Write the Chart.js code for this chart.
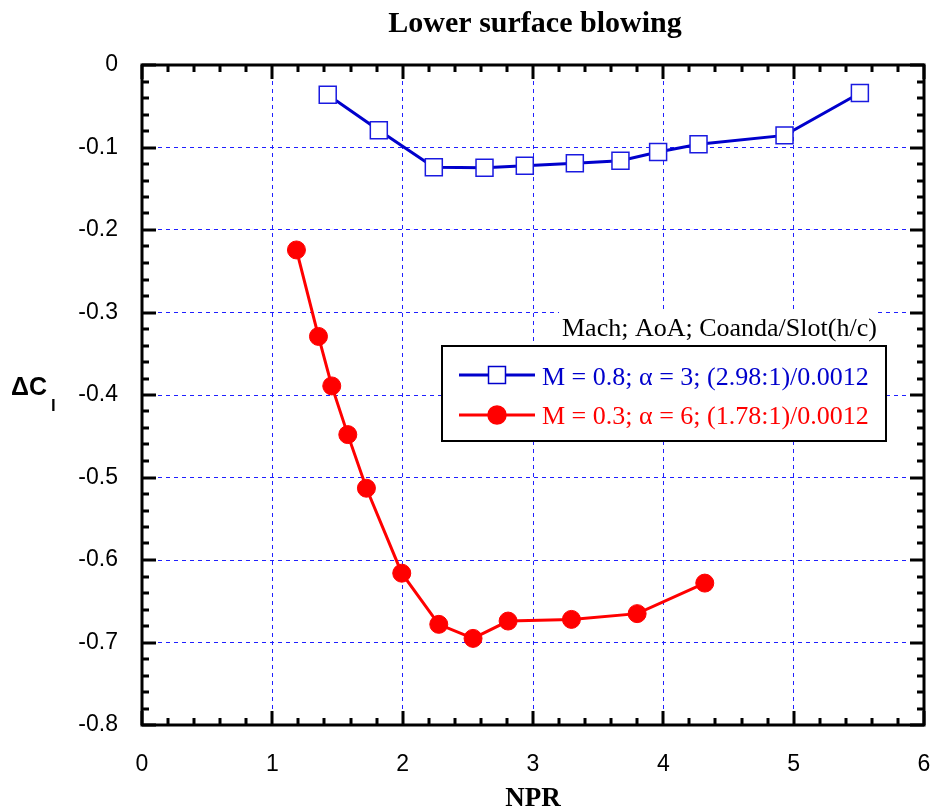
<!DOCTYPE html>
<html>
<head>
<meta charset="utf-8">
<script src="https://cdn.jsdelivr.net/npm/chart.js@4.4.1/dist/chart.umd.min.js"></script>
<style>
  html, body { margin: 0; padding: 0; background: #fff; }
  #wrap { width: 935px; height: 812px; }
</style>
</head>
<body>
<div id="wrap"><canvas id="chart" width="935" height="812"></canvas></div>
<script>
/* data */
const NPR_M08 = [1.425, 1.817, 2.239, 2.628, 2.937, 3.321, 3.671, 3.96, 4.27, 4.93, 5.508];
const DCL_M08 = [-0.036, -0.079, -0.124, -0.1245, -0.122, -0.119, -0.116, -0.1055, -0.096, -0.0853, -0.034];
const NPR_M03 = [1.185, 1.354, 1.456, 1.579, 1.722, 1.993, 2.277, 2.54, 2.809, 3.295, 3.799, 4.318];
const DCL_M03 = [-0.2242, -0.329, -0.389, -0.448, -0.513, -0.616, -0.678, -0.695, -0.674, -0.672, -0.665, -0.628];
const X_TICKS = ['0', '1', '2', '3', '4', '5', '6'];
const Y_TICKS = ['0', '-0.1', '-0.2', '-0.3', '-0.4', '-0.5', '-0.6', '-0.7', '-0.8'];
const SERIES_LABELS = ['M = 0.8; \u03b1 = 3; (2.98:1)/0.0012', 'M = 0.3; \u03b1 = 6; (1.78:1)/0.0012'];
const LEGEND_HEAD = 'Mach; AoA; Coanda/Slot(h/c)';
const TITLE = 'Lower surface blowing';

const BLUE = '#0000cc', RED = '#ff0000';
const SANS = '"Liberation Sans", Arial, sans-serif';
const SERIF = '"Liberation Serif", "Times New Roman", serif';

const pts = (xs, ys) => xs.map((x, i) => ({ x, y: ys[i] }));

// frame, inward ticks, titles and the boxed legend
const decor = {
  id: 'decor',
  afterDraw(chart) {
    const { ctx, chartArea: a, scales: { x, y } } = chart;
    ctx.save();
    ctx.strokeStyle = '#000';
    ctx.lineWidth = 3;
    ctx.lineCap = 'butt';
    ctx.beginPath();
    // x ticks (major every 1, minor every 0.2) on bottom and top
    for (let i = 0; i <= 30; i++) {
      const px = Math.round(x.getPixelForValue(i * 0.2));
      const len = i % 5 === 0 ? 14 : 7;
      ctx.moveTo(px, a.bottom); ctx.lineTo(px, a.bottom - len);
      ctx.moveTo(px, a.top); ctx.lineTo(px, a.top + len);
    }
    // y ticks (major every 0.1, minor every 0.02) on left and right
    for (let i = 0; i <= 40; i++) {
      const py = Math.round(y.getPixelForValue(-i * 0.02));
      const len = i % 5 === 0 ? 14 : 7;
      ctx.moveTo(a.left, py); ctx.lineTo(a.left + len, py);
      ctx.moveTo(a.right, py); ctx.lineTo(a.right - len, py);
    }
    ctx.stroke();
    ctx.strokeRect(a.left, a.top, a.right - a.left, a.bottom - a.top);

    // titles
    ctx.fillStyle = '#000';
    ctx.textAlign = 'center';
    ctx.textBaseline = 'alphabetic';
    ctx.font = 'bold 30px ' + SERIF;
    ctx.fillText(TITLE, 535, 32);
    ctx.font = 'bold 27px ' + SERIF;
    ctx.fillText('NPR', (a.left + a.right) / 2, 806);
    ctx.textAlign = 'left';
    ctx.font = 'bold 25px ' + SANS;
    ctx.fillText('\u0394C', 11, 395);
    ctx.font = 'bold 17px ' + SANS;
    ctx.fillText('l', 51, 411);

    // legend
    ctx.fillStyle = '#fff';
    ctx.fillRect(559, 312, 316, 33);
    ctx.fillRect(442, 346, 444, 95);
    ctx.fillStyle = '#000';
    ctx.font = '26px ' + SERIF;
    ctx.fillText(LEGEND_HEAD, 562, 336);
    ctx.lineWidth = 2;
    ctx.strokeRect(442, 346, 444, 95);

    const rows = [
      { y: 375, base: 385, color: BLUE, style: 'rect', r: 12 },
      { y: 415, base: 424, color: RED, style: 'circle', r: 9 }
    ];
    rows.forEach((row, i) => {
      ctx.strokeStyle = row.color;
      ctx.lineWidth = 3;
      ctx.beginPath();
      ctx.moveTo(459, row.y); ctx.lineTo(535, row.y);
      ctx.stroke();
      ctx.lineWidth = 1.5;
      ctx.fillStyle = row.style === 'rect' ? '#fff' : row.color;
      Chart.helpers.drawPoint(ctx, { pointStyle: row.style, radius: row.r, borderWidth: 1.5 }, 497, row.y);
      ctx.fillStyle = row.color;
      ctx.font = '26px ' + SERIF;
      ctx.fillText(SERIES_LABELS[i], 542, row.base);
    });
    ctx.restore();
  }
};

new Chart(document.getElementById('chart'), {
  type: 'scatter',
  data: {
    datasets: [
      {
        label: SERIES_LABELS[0], data: pts(NPR_M08, DCL_M08), showLine: true,
        borderColor: BLUE, borderWidth: 3, tension: 0,
        pointStyle: 'rect', pointRadius: 12, pointBackgroundColor: '#fff',
        pointBorderColor: '#1a1ae0', pointBorderWidth: 1.5
      },
      {
        label: SERIES_LABELS[1], data: pts(NPR_M03, DCL_M03), showLine: true,
        borderColor: RED, borderWidth: 3, tension: 0,
        pointStyle: 'circle', pointRadius: 9, pointBackgroundColor: RED,
        pointBorderColor: RED, pointBorderWidth: 1
      }
    ]
  },
  options: {
    responsive: false,
    animation: false,
    clip: false,
    layout: { autoPadding: false, padding: { top: 65, right: 11, left: 0, bottom: 0 } },
    plugins: { legend: { display: false }, tooltip: { enabled: false } },
    scales: {
      x: {
        type: 'linear', min: 0, max: 6,
        afterFit: s => { s.height = 87; s.paddingLeft = 0; s.paddingRight = 0; },
        afterBuildTicks: s => { s.ticks = X_TICKS.map(v => ({ value: +v })); },
        ticks: { color: '#000', font: { size: 23, family: SANS }, padding: 26, maxRotation: 0,
                 callback: (v, i) => X_TICKS[i] },
        grid: { color: '#2020ff', lineWidth: 1, drawTicks: false },
        border: { display: false, dash: [4, 4] }
      },
      y: {
        type: 'linear', min: -0.8, max: 0,
        afterFit: s => { s.width = 142; s.paddingTop = 0; s.paddingBottom = 0; },
        afterBuildTicks: s => { s.ticks = Y_TICKS.map(v => ({ value: +v })); },
        ticks: { color: '#000', font: { size: 23, family: SANS }, padding: 24,
                 callback: (v, i) => Y_TICKS[i] },
        grid: { color: '#2020ff', lineWidth: 1, drawTicks: false },
        border: { display: false, dash: [4, 4] }
      }
    }
  },
  plugins: [decor]
});
</script>
</body>
</html>
